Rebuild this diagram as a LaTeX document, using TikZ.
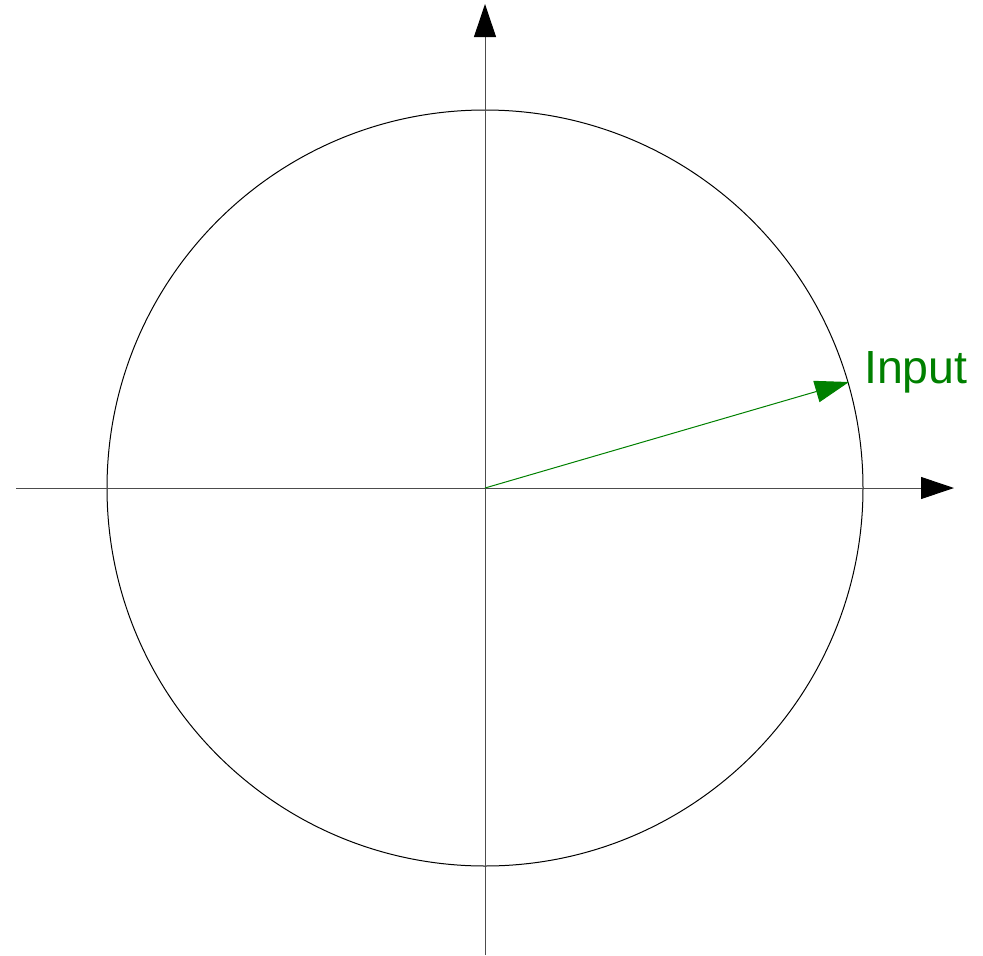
\documentclass[tikz,border=0pt]{standalone}
\usepackage{fontspec}
\setmainfont{Liberation Sans}
\usetikzlibrary{arrows.meta}
\definecolor{inputgreen}{RGB}{0,128,0}
\tikzset{
  axis/.style={draw=black!70, line width=1pt, -{Triangle[length=33pt,width=22pt,black]}},
  vec/.style={draw=inputgreen, line width=1pt, -{Triangle[length=34pt,width=22pt]}},
}
\begin{document}
\begin{tikzpicture}[x=1pt,y=-1pt]
\useasboundingbox (0,0) rectangle (983,956);
\coordinate (O) at (485,488);
\coordinate (xs) at (16,488);
\coordinate (xe) at (954,488);
\coordinate (ys) at (485,955);
\coordinate (ye) at (485,4);
\coordinate (P) at (849,382);
\draw[line width=1pt] (O) circle[radius=378];
\draw[axis] (xs) -- (xe);
\draw[axis] (ys) -- (ye);
\draw[vec] (O) -- (P);
\node[anchor=base west, inner sep=0pt, text=inputgreen, font=\fontsize{46.5}{50}\selectfont] (lbl) at (864,383) {Input};
\end{tikzpicture}
\end{document}
